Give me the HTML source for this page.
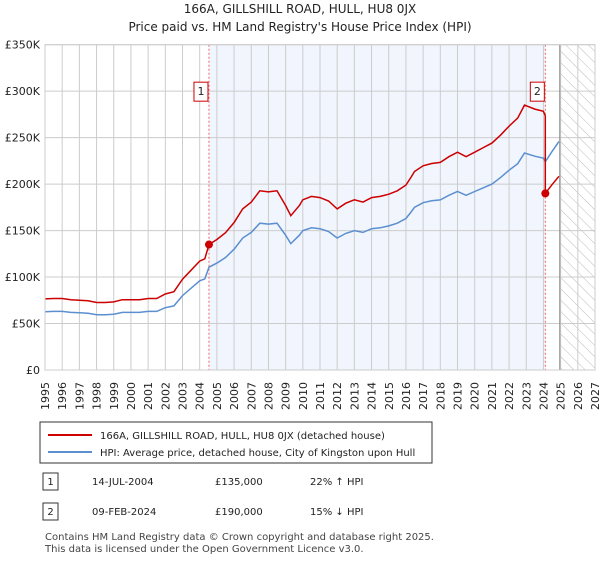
<!DOCTYPE html>
<html><head><meta charset="utf-8"><style>
body{margin:0;background:#fff;font-family:"DejaVu Sans",sans-serif;}
svg text{font-family:"DejaVu Sans",sans-serif;}
</style></head><body>
<svg id="c" width="600" height="560" viewBox="0 0 600 560">
<defs><pattern id="hatch" width="8" height="8" patternUnits="userSpaceOnUse" patternTransform="rotate(-45)"><line x1="0" y1="0" x2="0" y2="8" stroke="#bbb" stroke-width="1"/></pattern></defs>
<text x="300" y="13" text-anchor="middle" font-size="12" fill="#222">166A, GILLSHILL ROAD, HULL, HU8 0JX</text>
<text x="300" y="31" text-anchor="middle" font-size="12" fill="#222">Price paid vs. HM Land Registry's House Price Index (HPI)</text>
<g id="plot"></g>
<g>
<rect x="40" y="422" width="392" height="41" fill="#fff" stroke="#333" stroke-width="1"/>
<line x1="48" y1="435" x2="92" y2="435" stroke="#cc0000" stroke-width="2"/>
<text x="100" y="439" font-size="10" fill="#222">166A, GILLSHILL ROAD, HULL, HU8 0JX (detached house)</text>
<line x1="48" y1="452" x2="92" y2="452" stroke="#5b8fd0" stroke-width="2"/>
<text x="100" y="456" font-size="10" fill="#222">HPI: Average price, detached house, City of Kingston upon Hull</text>
</g>
<g font-size="10" fill="#222">
<rect x="43" y="473" width="15" height="17" fill="#fff" stroke="#333"/><text x="50.5" y="485" text-anchor="middle">1</text>
<text x="92" y="485">14-JUL-2004</text><text x="215" y="485">£135,000</text><text x="310" y="485">22% ↑ HPI</text>
<rect x="43" y="503" width="15" height="17" fill="#fff" stroke="#333"/><text x="50.5" y="515" text-anchor="middle">2</text>
<text x="92" y="515">09-FEB-2024</text><text x="215" y="515">£190,000</text><text x="310" y="515">15% ↓ HPI</text>
</g>
<text x="45" y="540" font-size="10" fill="#444">Contains HM Land Registry data © Crown copyright and database right 2025.</text>
<text x="45" y="552" font-size="10" fill="#444">This data is licensed under the Open Government Licence v3.0.</text>
</svg>
<script>
const hpiYears=[1995,1995.5,1996,1996.5,1997,1997.5,1998,1998.5,1999,1999.5,2000,2000.5,2001,2001.5,2002,2002.5,2003,2003.5,2004,2004.3,2004.54,2005,2005.5,2006,2006.5,2007,2007.5,2008,2008.5,2009,2009.3,2009.8,2010,2010.5,2011,2011.5,2012,2012.5,2013,2013.5,2014,2014.5,2015,2015.5,2016,2016.3,2016.5,2017,2017.5,2018,2018.5,2019,2019.5,2020,2020.5,2021,2021.5,2022,2022.5,2022.9,2023.5,2024,2024.11,2024.5,2024.9];
const hpiValues=[62.7,63,63,62,61.5,61,59.5,59.5,60,62,62,62,63,63,67,69,80,88,96,98,110.6,115,121,130,142,148,158,157,158,145,136,145,150,153,152,149,142,147,150,148,152,153,155,158,163,170,175,180,182,183,188,192,188,192,196,200,207,215,222,233.5,230,228,224,235,245.7];
const sales=[{t:2004.54,v:135,label:"1"},{t:2024.11,v:190,label:"2"}];
const yTicks=[0,50,100,150,200,250,300,350];
const yTickLabels=["£0","£50K","£100K","£150K","£200K","£250K","£300K","£350K"];
const xTicks=[1995,1996,1997,1998,1999,2000,2001,2002,2003,2004,2005,2006,2007,2008,2009,2010,2011,2012,2013,2014,2015,2016,2017,2018,2019,2020,2021,2022,2023,2024,2025,2026,2027];
const L=45,R=595,T=44.7,B=370,x0=1995,x1=2027,yMax=350,hatchStart=2024.95;
const X=t=>L+(t-x0)/(x1-x0)*(R-L);
const Y=v=>B-v/yMax*(B-T);
const NS="http://www.w3.org/2000/svg";
const g=document.getElementById('plot');
function mk(tag,attrs,parent){const e=document.createElementNS(NS,tag);for(const k in attrs)e.setAttribute(k,attrs[k]);(parent||g).appendChild(e);return e;}
let e;
e=mk('rect',{x:X(sales[0].t),y:T,width:X(sales[1].t)-X(sales[0].t),height:B-T,fill:'#eef3fc',opacity:0.8});


e=mk('rect',{x:X(hatchStart),y:T,width:R-X(hatchStart),height:B-T,fill:'url(#hatch)'});


xTicks.forEach(t=>{
 e=mk('line',{x1:X(t),x2:X(t),y1:T,y2:B,stroke:'#ccc','stroke-width':1});
 
 
 const tx=X(t)+4, ty=382;
 e=mk('text',{x:tx,y:ty,'text-anchor':'end','font-size':11,fill:'#222',transform:'rotate(-90 '+tx+' '+ty+')'});
 e.textContent=t;
 
 
});
yTicks.forEach((v,i)=>{
 e=mk('line',{x1:L,x2:R,y1:Y(v),y2:Y(v),stroke:'#ccc','stroke-width':1});
 
 
 e=mk('text',{x:40,y:Y(v)+4,'text-anchor':'end','font-size':11,fill:'#222'});
 e.textContent=yTickLabels[i];
 
 
});
e=mk('line',{x1:X(hatchStart),x2:X(hatchStart),y1:T,y2:B,stroke:'#888','stroke-width':1});


sales.forEach(s=>{
 e=mk('line',{x1:X(s.t),x2:X(s.t),y1:T,y2:B,stroke:'#e66','stroke-width':1,'stroke-dasharray':'2,2'});
 
 
});
let d=hpiYears.map((t,i)=>(i?'L':'M')+X(t).toFixed(1)+','+Y(hpiValues[i]).toFixed(1)).join('');
e=mk('path',{d:d,fill:'none',stroke:'#5b8fd0','stroke-width':1.5});


const i1=hpiYears.indexOf(sales[0].t), i2=hpiYears.indexOf(sales[1].t);
const f1=sales[0].v/hpiValues[i1], f2=sales[1].v/hpiValues[i2];
let pts=[];
hpiYears.forEach((t,i)=>{ if(i<=i2) pts.push([t,hpiValues[i]*f1]); });
pts.push([sales[1].t,sales[1].v]);
hpiYears.forEach((t,i)=>{ if(i>i2) pts.push([t,hpiValues[i]*f2]); });
d=pts.map((p,i)=>(i?'L':'M')+X(p[0]).toFixed(1)+','+Y(p[1]).toFixed(1)).join('');
e=mk('path',{d:d,fill:'none',stroke:'#cc0000','stroke-width':1.5});


sales.forEach(s=>{
 e=mk('circle',{cx:X(s.t),cy:Y(s.v),r:4,fill:'#cc0000'});
 
 
 e=mk('rect',{x:X(s.t)-15,y:Y(300)-9,width:14,height:19,fill:'#fff',stroke:'#cc0000','stroke-width':1});
 
 
 e=mk('text',{x:X(s.t)-8,y:Y(300)+4,'text-anchor':'middle','font-size':11,fill:'#222'});
 e.textContent=s.label;
 
 
});
e=mk('rect',{x:L,y:T,width:R-L,height:B-T,fill:'none',stroke:'#ccc'});


</script>
</body></html>
